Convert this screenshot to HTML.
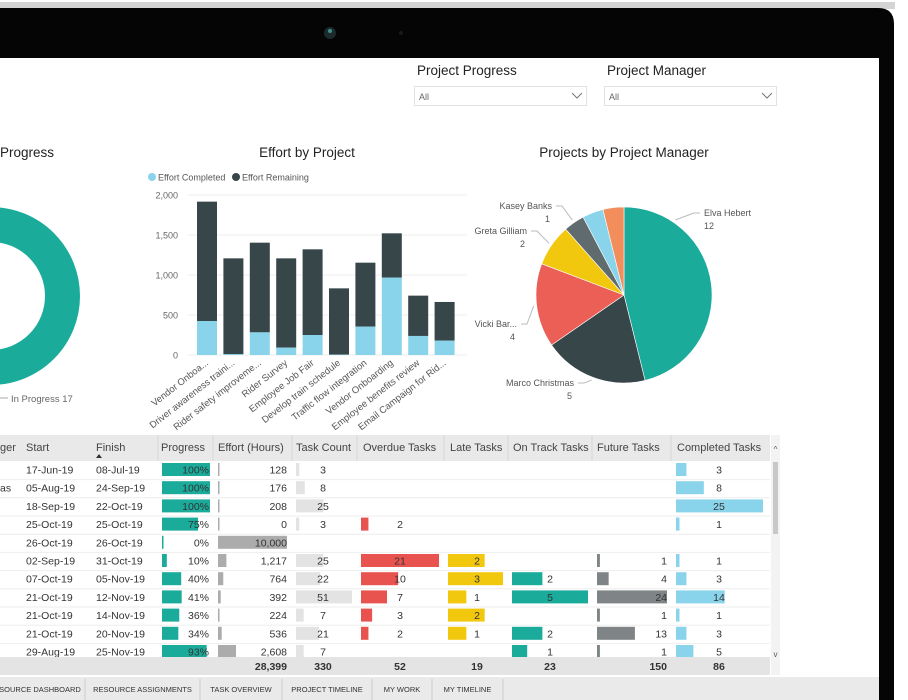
<!DOCTYPE html>
<html><head><meta charset="utf-8"><style>
html,body{margin:0;padding:0;background:#fff;width:908px;height:700px;overflow:hidden}
svg{display:block;font-family:"Liberation Sans",sans-serif}
</style></head><body>
<svg id="s" width="908" height="700" viewBox="0 0 908 700" xmlns="http://www.w3.org/2000/svg">
<rect x="0" y="0" width="908" height="700" fill="#fff"/>
<rect x="0" y="2" width="895" height="7" fill="#d4d4d4"/>
<path d="M0 8 H878 Q894 8 894 24 V700 H0 Z" fill="#050505"/>
<rect x="0" y="58" width="879" height="642" fill="#fff"/>
<circle cx="330" cy="33" r="6" fill="#1c2a2c"/>
<circle cx="330" cy="31" r="2" fill="#3a8f8a"/>
<circle cx="401" cy="33" r="2" fill="#1a1a1a"/>

<g>
<text x="417" y="75" font-size="13.5" fill="#222">Project Progress</text>
<rect x="414.5" y="86.5" width="172" height="19" fill="#fff" stroke="#e2e2e2"/>
<text x="419" y="100" font-size="9" fill="#666">All</text>
<path d="M572 93 l5 5 l5 -5" fill="none" stroke="#777"/>
</g>
<g>
<text x="607" y="75" font-size="13.5" fill="#222">Project Manager</text>
<rect x="604.5" y="86.5" width="172" height="19" fill="#fff" stroke="#e2e2e2"/>
<text x="609" y="100" font-size="9" fill="#666">All</text>
<path d="M762 93 l5 5 l5 -5" fill="none" stroke="#777"/>
</g>

<text x="0" y="157" font-size="13.5" fill="#222">Progress</text>
<circle cx="-9" cy="296" r="71.5" fill="none" stroke="#1aab9b" stroke-width="35"/>
<line x1="0" y1="398" x2="8" y2="398" stroke="#aaa"/>
<text x="11" y="402" font-size="9.5" fill="#666">In Progress 17</text>

<text x="307" y="157" font-size="13.5" fill="#222" text-anchor="middle">Effort by Project</text>
<circle cx="152" cy="177" r="4" fill="#8ad4eb"/>
<text x="158" y="180.5" font-size="9" fill="#555">Effort Completed</text>
<circle cx="236" cy="177" r="4" fill="#374649"/>
<text x="242" y="180.5" font-size="9" fill="#555">Effort Remaining</text>
<g id="bars"></g>

<text x="624" y="157" font-size="13.5" fill="#222" text-anchor="middle">Projects by Project Manager</text>
<g id="pie"></g>

<g id="table"></g>

<rect x="0" y="677" width="879" height="23" fill="#eaeaea"/>
<g id="tabs" font-size="7.5" fill="#333" text-anchor="middle"></g>
</svg>
<script>
var NS="http://www.w3.org/2000/svg";
function mk(tag,attrs,parent,txt){var e=document.createElementNS(NS,tag);for(var k in attrs)e.setAttribute(k,attrs[k]);if(txt!==undefined)e.textContent=txt;parent.appendChild(e);return e;}

// ---- Bar chart data ----
var projects=["Vendor Onboa...","Driver awareness traini...","Rider safety improveme...","Rider Survey","Employee Job Fair","Develop train schedule","Traffic flow integration","Vendor Onboarding","Employee benefits review","Email Campaign for Rid..."];
var effortCompleted=[425,10,283,92,250,5,354,967,238,179];
var effortRemaining=[1492,1198,1121,1116,1071,828,800,554,504,484];
var yTicks=[0,500,1000,1500,2000];
var yTickLabels=["0","500","1,000","1,500","2,000"];

var bars=document.getElementById("bars");
function yS(v){return 355-v*160/2000;}
function xS(i){return 197+i*26.4;}
for(var t=0;t<yTicks.length;t++){
  var gl=mk("line",{x1:188,x2:467,y1:yS(yTicks[t]),y2:yS(yTicks[t]),stroke:"#eee"},bars);
  
  
  var tl=mk("text",{x:178,y:yS(yTicks[t])+3.5,"font-size":9,fill:"#666","text-anchor":"end"},bars,yTickLabels[t]);
  
  
}
for(var i=0;i<projects.length;i++){
  var c=effortCompleted[i],r=effortRemaining[i];
  var br=mk("rect",{x:xS(i),y:yS(c+r),width:20,height:yS(c)-yS(c+r),fill:"#374649"},bars);
  
  
  var bc=mk("rect",{x:xS(i),y:yS(c),width:20,height:yS(0)-yS(c),fill:"#8ad4eb"},bars);
  
  
  var cx=xS(i)+12,cy=364;
  var xl=mk("text",{x:cx,y:cy,"font-size":9.5,fill:"#555","text-anchor":"end",transform:"rotate(-38 "+cx+" "+cy+")"},bars,projects[i]);
  
  
}

// ---- Pie data ----
var managers=["Elva Hebert","Marco Christmas","Vicki Bar...","Greta Gilliam","Kasey Banks","Other A","Other B"];
var managerCounts=[12,5,4,2,1,1,1];
var pieColors=["#1aab9b","#374649","#ec5f57","#f2c80f","#5f6b6d","#8ad4eb","#f28e5c"];
var labelShown=[true,true,true,true,true,false,false];
var pie=document.getElementById("pie");
var PCX=624,PCY=295,PR=88;
var tot=managerCounts.reduce(function(a,b){return a+b},0),acc=0;
var labelPos=[[704,216,"start"],[574,386,"end"],[517,327,"end"],[527,234,"end"],[552,209,"end"]];
for(var i=0;i<managerCounts.length;i++){
  var a0=acc/tot*2*Math.PI;acc+=managerCounts[i];var a1=acc/tot*2*Math.PI;
  var x0=PCX+PR*Math.sin(a0),y0=PCY-PR*Math.cos(a0),x1=PCX+PR*Math.sin(a1),y1=PCY-PR*Math.cos(a1);
  var large=(a1-a0)>Math.PI?1:0;
  var sl=mk("path",{d:"M"+PCX+" "+PCY+" L"+x0+" "+y0+" A"+PR+" "+PR+" 0 "+large+" 1 "+x1+" "+y1+" Z",fill:pieColors[i],stroke:"#fff","stroke-width":0.6},pie);
  
  
  if(labelShown[i]&&labelPos[i]){
    var am=(a0+a1)/2;
    if(i===0) am=0.6;
    var ex=PCX+(PR+3)*Math.sin(am),ey=PCY-(PR+3)*Math.cos(am);
    var lp=labelPos[i];
    var lx=lp[2]=="start"?lp[0]-4:lp[0]+4;
    var ll=mk("polyline",{points:ex+","+ey+" "+(lx+(lp[2]=="start"?-6:6))+","+(lp[1]-3)+" "+lx+","+(lp[1]-3),fill:"none",stroke:"#bbb"},pie);
    
    
    var pl=mk("text",{x:lp[0],y:lp[1],"font-size":9,fill:"#555","text-anchor":lp[2]},pie,managers[i]);
    
    
    var pv=mk("text",{x:lp[2]=="start"?lp[0]:lp[0]-2,y:lp[1]+13,"font-size":9,fill:"#555","text-anchor":lp[2]},pie,String(managerCounts[i]));
    
    
  }
}

// ---- Table data ----
var rowLeft=["","as","","","","","","","","",""];
var starts=["17-Jun-19","05-Aug-19","18-Sep-19","25-Oct-19","26-Oct-19","02-Sep-19","07-Oct-19","21-Oct-19","21-Oct-19","21-Oct-19","29-Aug-19"];
var finishes=["08-Jul-19","24-Sep-19","22-Oct-19","25-Oct-19","26-Oct-19","31-Oct-19","05-Nov-19","12-Nov-19","14-Nov-19","20-Nov-19","25-Nov-19"];
var progress=[100,100,100,75,0,10,40,41,36,34,93];
var effort=[128,176,208,0,10000,1217,764,392,224,536,2608];
var taskCount=[3,8,25,3,null,25,22,51,7,21,7];
var overdue=[null,null,null,2,null,21,10,7,3,2,null];
var late=[null,null,null,null,null,2,3,1,2,1,null];
var onTrack=[null,null,null,null,null,null,2,5,null,2,1];
var future=[null,null,null,null,null,1,4,24,1,13,1];
var completed=[3,8,25,1,null,1,3,14,1,3,5];
var totals=["28,399","330","52","19","23","150","86"];

var tb=document.getElementById("table");
var hdr=mk("rect",{x:0,y:435,width:770,height:26,fill:"#e9e9e9"},tb);


var cols=[["ger",0],["Start",26],["Finish",96],["Progress",161],["Effort (Hours)",218],["Task Count",296],["Overdue Tasks",363],["Late Tasks",450],["On Track Tasks",513],["Future Tasks",597],["Completed Tasks",677]];
var seps=[158,213,292,357,444,508,592,671];
for(var i=0;i<cols.length;i++){
  var h=mk("text",{x:cols[i][1],y:451,"font-size":11,fill:"#444"},tb,cols[i][0]);
  
  
}
mk("path",{d:"M96 458 l3 -4 l3 4 z",fill:"#333"},tb);
for(var i=0;i<seps.length;i++){mk("line",{x1:seps[i],x2:seps[i],y1:435,y2:461,stroke:"#d8d8d8"},tb);}
var clip=mk("clipPath",{id:"bodyclip"},tb);mk("rect",{x:0,y:461,width:770,height:196},clip);
var body=mk("g",{"clip-path":"url(#bodyclip)"},tb);
function rowY(i){return 463+i*18.2;}
function bar(x,y,w,fill,name){var b=mk("rect",{x:x,y:y,width:Math.max(w,1.5),height:13,fill:fill},body);return b;}
function txt(x,y,s,anchor){return mk("text",{x:x,y:y+10.5,"font-size":10.5,fill:"#333","text-anchor":anchor||"start"},body,s);}
for(var i=0;i<starts.length;i++){
  var y=rowY(i);
  var rl=mk("line",{x1:0,x2:770,y1:y+16.6,y2:y+16.6,stroke:"#eee"},body);
  
  
  txt(0,y,rowLeft[i]);
  txt(26,y,starts[i]);txt(96,y,finishes[i]);
  bar(162,y,48*progress[i]/100,"#1aab9b","progress-bar");txt(209,y,progress[i]+"%","end");
  bar(218,y,69*effort[i]/10000,"#acacac","effort-bar");txt(287,y,effort[i].toLocaleString("en-US"),"end");
  if(taskCount[i]!==null){bar(296,y,56*taskCount[i]/51,"#e3e3e3","task-count-bar");txt(323,y,String(taskCount[i]),"middle");}
  if(overdue[i]!==null){bar(361,y,78*overdue[i]/21,"#e8534f","overdue-bar");txt(400,y,String(overdue[i]),"middle");}
  if(late[i]!==null){bar(448,y,55*late[i]/3,"#f2c80f","late-bar");txt(477,y,String(late[i]),"middle");}
  if(onTrack[i]!==null){bar(512,y,76*onTrack[i]/5,"#1aab9b","on-track-bar");txt(550,y,String(onTrack[i]),"middle");}
  if(future[i]!==null){bar(597,y,70*future[i]/24,"#7f8587","future-bar");txt(667,y,String(future[i]),"end");}
  if(completed[i]!==null){bar(676,y,87*completed[i]/25,"#8ad4eb","completed-bar");txt(719,y,String(completed[i]),"middle");}
}
var ft=mk("rect",{x:0,y:657,width:770,height:18,fill:"#e4e4e4"},tb);


var totX=[[287,"end"],[323,"middle"],[400,"middle"],[477,"middle"],[550,"middle"],[667,"end"],[719,"middle"]];
for(var i=0;i<totals.length;i++){
  var tt=mk("text",{x:totX[i][0],y:670,"font-size":10.5,"font-weight":"bold",fill:"#333","text-anchor":totX[i][1]},tb,totals[i]);
  
  
}
var sb=mk("rect",{x:771,y:435,width:9,height:240,fill:"#f3f3f3"},tb);


var th=mk("rect",{x:773,y:462,width:5,height:72,fill:"#c8c8c8"},tb);


mk("text",{x:775.5,y:452,"font-size":8,fill:"#555","text-anchor":"middle"},tb,"^");
mk("text",{x:775.5,y:657,"font-size":8,fill:"#555","text-anchor":"middle"},tb,"v");

var tabNames=["SOURCE DASHBOARD","RESOURCE ASSIGNMENTS","TASK OVERVIEW","PROJECT TIMELINE","MY WORK","MY TIMELINE"];
var tabEdges=[-5,85,200,282,372,432,503];
var tabs=document.getElementById("tabs");
for(var i=0;i<tabNames.length;i++){
  var tx=mk("text",{x:(tabEdges[i]+tabEdges[i+1])/2,y:692},tabs,tabNames[i]);
  
  
  mk("line",{x1:tabEdges[i+1],x2:tabEdges[i+1],y1:679,y2:700,stroke:"#ccc"},tabs);
}
</script>
</body></html>
